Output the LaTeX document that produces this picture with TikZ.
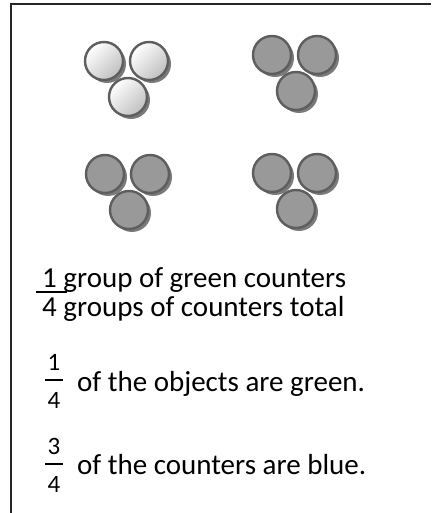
\documentclass[tikz,border=0pt]{standalone}
\usepackage{fontspec}
\setmainfont{Carlito}
\usepackage{tikz}
\usetikzlibrary{positioning}

\tikzset{
    chipshadow/.style={fill=black!52,draw=none},
    greychip/.style={fill=black!40,draw=black!63,line width=2.4pt},
    whitechip/.style={draw=black!63,line width=2.4pt,shading=axis,
        top color=white,bottom color=black!25,shading angle=45},
    words/.style={anchor=base west,inner sep=0pt,font=\fontsize{29}{35}\selectfont},
    digit/.style={inner sep=0pt,font=\fontsize{25}{30}\selectfont}
}

\begin{document}
\begin{tikzpicture}
            [
                x=1pt,y=-1pt
            ]
            \useasboundingbox (0,0) rectangle (431,513);

            \draw[black!85,line width=2.4pt] (11,513) -- (11,4) -- (431,4);

            % four groups of three counters
            \foreach \gx/\gy/\kind in {127/79/whitechip,295/73/greychip,128/192/greychip,295/191/greychip}
                \foreach \dx/\dy in {-23/-18,22/-18,1/18}
                {
                    \fill[chipshadow] (\gx+\dx+3,\gy+\dy+3) circle (19);
                    \draw[\kind] (\gx+\dx,\gy+\dy) circle (19);
                }

            \node[words] (line1) at (42,287) {1 group of green counters};
            \node[words] (line2) at (42,316) {4 groups of counters total};
            \draw[line width=1.3pt] (36,292) -- (67,292);

            \node[digit] (num1) at (54,362) {1};
            \node[digit] (den1) at (54,400) {4};
            \draw[line width=1.3pt] (45,380) -- (63,380);
            \node[words] (txt1) at (77,391) {of the objects are green.};

            \node[digit] (num2) at (54,446) {3};
            \node[digit] (den2) at (54,484) {4};
            \draw[line width=1.3pt] (45,464) -- (63,464);
            \node[words] (txt2) at (77,474) {of the counters are blue.};
        \end{tikzpicture}
\end{document}
